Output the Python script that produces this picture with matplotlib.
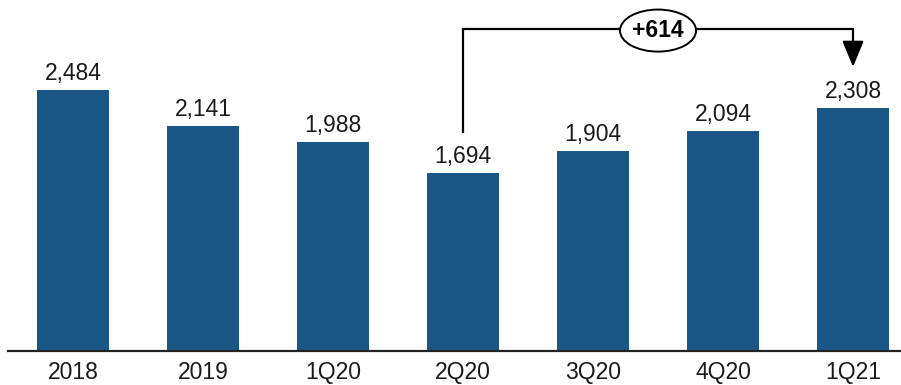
import matplotlib as mpl
mpl.rcParams['font.family'] = ['Liberation Sans', 'DejaVu Sans']
mpl.rcParams['font.size'] = 16.5

import matplotlib.pyplot as plt
from matplotlib.patches import Ellipse

# datos
periodos = ['2018', '2019', '1Q20', '2Q20', '3Q20', '4Q20', '1Q21']
valores = [2484, 2141, 1988, 1694, 1904, 2094, 2308]
etiquetas = ['2,484', '2,141', '1,988', '1,694', '1,904', '2,094', '2,308']
delta_txt = '+614'
i_desde = 3
i_hasta = 6

azul = '#1a5787'
texto = '#1a1a1a'

fig = plt.figure(figsize=(9.01, 3.85), dpi=100)
ax = fig.add_axes([0, 34/385, 1, 351/385])

x = list(range(len(periodos)))
ax.bar(x, valores, width=0.555, color=azul, zorder=2)

for xi, v, t in zip(x, valores, etiquetas):
    ax.annotate(t, (xi, v), xytext=(0, 10), textcoords='offset pixels',
                ha='center', va='baseline', color=texto)

ax.set_xlim(-0.5615, 6.369)
ax.set_ylim(0, 3340)
ax.set_xticks(x)
ax.set_xticklabels(periodos, color=texto)
ax.tick_params(axis='x', length=0, pad=7)
ax.set_yticks([])
for s in ax.spines.values():
    s.set_visible(False)
ax.axhline(0, xmin=8/901, xmax=1, color='#222222', lw=1.6, zorder=3, clip_on=False)

# corchete +614
y_top = 3064
y_ini = valores[i_desde] + 390
y_fin = valores[i_hasta] + 395
ax.plot([i_desde, i_desde, i_hasta, i_hasta], [y_ini, y_top, y_top, y_top - 150],
        color='black', lw=1.6, solid_joinstyle='miter', zorder=3)
ax.annotate('', xy=(i_hasta, y_fin), xytext=(i_hasta, y_top - 140),
            arrowprops=dict(arrowstyle='-|>,head_length=0.8,head_width=0.33',
                            color='black', lw=1.6, shrinkA=0, shrinkB=0,
                            mutation_scale=20), zorder=3)
xm = (i_desde + i_hasta) / 2
ax.add_patch(Ellipse((xm, y_top - 15), 0.585, 400, facecolor='white',
                     edgecolor='black', lw=1.4, zorder=4))
ax.text(xm, y_top - 15, delta_txt, ha='center', va='center', fontweight='bold',
        color='black', zorder=5)

fig.savefig('out.png', dpi=100)
